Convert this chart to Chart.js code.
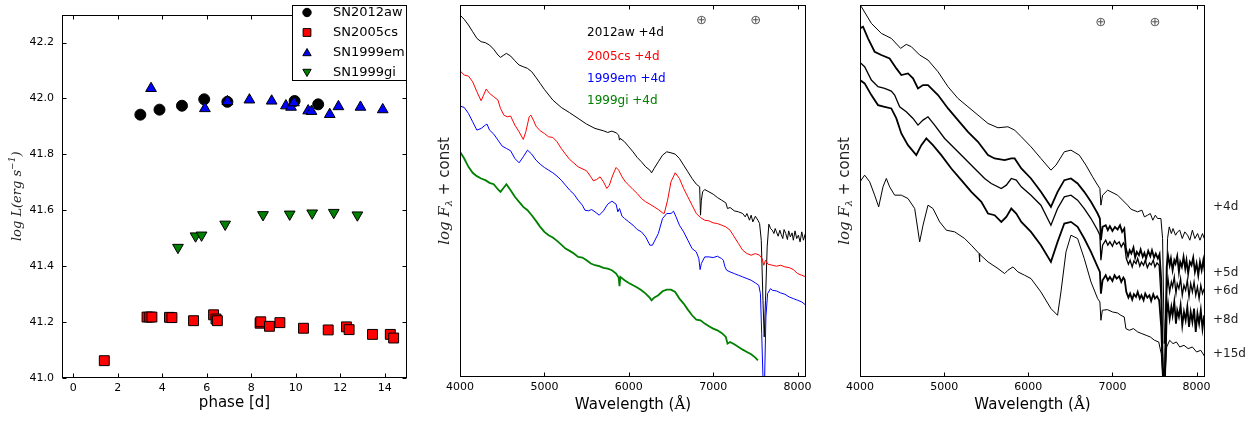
<!DOCTYPE html>
<html><head><meta charset="utf-8">
<script src="https://cdn.jsdelivr.net/npm/chart.js@4/dist/chart.umd.min.js"></script>
<style>
body{margin:0;background:#fff;width:1258px;height:423px;overflow:hidden;position:relative}
canvas{position:absolute;top:0}
</style></head><body>
<canvas id="c1" width="420" height="423" style="left:0;width:420px;height:423px"></canvas>
<canvas id="c2" width="400" height="423" style="left:420px;width:400px;height:423px"></canvas>
<canvas id="c3" width="438" height="423" style="left:820px;width:438px;height:423px"></canvas>
<script>
// ---------- Panel 1: bolometric luminosity ----------
const phase2012aw = [3.02, 3.88, 4.89, 5.89, 6.93, 9.95, 11.01];
const logL2012aw  = [41.942, 41.960, 41.974, 41.997, 41.988, 41.991, 41.979];
const phase2005cs = [1.40, 3.32, 3.44, 3.54, 4.33, 4.44, 5.41, 6.31, 6.42, 6.48, 8.40, 8.43, 8.82, 9.29, 10.35, 11.46, 12.28, 12.40, 13.45, 14.25, 14.40];
const logL2005cs  = [41.062, 41.218, 41.218, 41.218, 41.217, 41.216, 41.205, 41.226, 41.211, 41.205, 41.196, 41.201, 41.185, 41.198, 41.178, 41.172, 41.183, 41.173, 41.156, 41.156, 41.143];
const phase1999em = [3.50, 5.92, 6.93, 7.92, 8.92, 9.56, 9.79, 9.92, 10.56, 10.71, 11.53, 11.92, 12.91, 13.91];
const logL1999em  = [42.036, 41.964, 41.989, 41.995, 41.991, 41.974, 41.969, 41.985, 41.956, 41.954, 41.943, 41.971, 41.969, 41.960];
const phase1999gi = [4.71, 5.50, 5.77, 6.83, 8.53, 9.73, 10.74, 11.71, 12.77];
const logL1999gi  = [41.467, 41.508, 41.511, 41.550, 41.584, 41.586, 41.590, 41.592, 41.583];
const phaseTicks = [0, 2, 4, 6, 8, 10, 12, 14];
const lumTicks = [41.0, 41.2, 41.4, 41.6, 41.8, 42.0, 42.2];
const legendNames = ['SN2012aw', 'SN2005cs', 'SN1999em', 'SN1999gi'];

// ---------- Panel 2: comparison spectra at +4d (log F + const) ----------
const spec2012aw4d = [[4000,10.85],[4050,10.72],[4100,10.55],[4150,10.35],[4200,10.15],[4250,10.05],[4300,10.02],[4350,9.95],[4400,9.82],[4450,9.65],[4480,9.58],[4520,9.65],[4550,9.70],[4600,9.62],[4650,9.48],[4700,9.35],[4750,9.30],[4800,9.25],[4850,9.15],[4900,8.98],[4950,8.80],[5000,8.62],[5100,8.30],[5200,8.08],[5300,7.92],[5400,7.75],[5500,7.58],[5600,7.45],[5700,7.38],[5750,7.33],[5800,7.37],[5850,7.32],[5880,7.25],[5890,7.10],[5900,7.15],[5950,7.05],[6000,6.90],[6050,6.75],[6100,6.58],[6150,6.45],[6200,6.30],[6250,6.20],[6270,6.12],[6300,6.25],[6350,6.45],[6400,6.65],[6450,6.75],[6500,6.72],[6550,6.68],[6600,6.55],[6650,6.35],[6700,6.15],[6750,5.95],[6800,5.78],[6840,5.70],[6850,4.85],[6860,5.30],[6875,5.55],[6900,5.62],[6950,5.55],[7000,5.48],[7050,5.38],[7100,5.30],[7150,5.22],[7170,5.05],[7200,5.08],[7250,4.98],[7300,4.95],[7350,4.90],[7380,4.80],[7400,4.90],[7430,4.70],[7450,4.85],[7470,4.65],[7500,4.82],[7530,4.70],[7550,4.60],[7570,4.10],[7590,2.30],[7605,1.20],[7620,2.30],[7640,3.90],[7660,4.58],[7680,4.45],[7700,4.40],[7720,4.30],[7735,4.45],[7750,4.35],[7770,4.22],[7790,4.40],[7805,4.28],[7825,4.15],[7840,4.42],[7860,4.30],[7880,4.12],[7895,4.38],[7915,4.20],[7935,4.32],[7950,4.10],[7970,4.38],[7990,4.15],[8010,4.25],[8030,4.05],[8050,4.35],[8070,4.10],[8090,4.28],[8100,4.18]];
const spec2005cs4d = [[4000,9.18],[4050,9.05],[4100,9.02],[4150,8.85],[4200,8.55],[4250,8.28],[4280,8.45],[4310,8.63],[4350,8.50],[4400,8.40],[4450,8.30],[4480,8.05],[4520,7.85],[4560,7.80],[4600,7.82],[4650,7.55],[4700,7.35],[4750,7.12],[4780,7.35],[4820,7.80],[4840,7.85],[4870,7.70],[4900,7.52],[4950,7.38],[5000,7.30],[5050,7.20],[5100,7.18],[5150,7.05],[5200,6.85],[5250,6.68],[5300,6.52],[5400,6.30],[5500,6.18],[5550,6.00],[5580,5.88],[5620,5.92],[5660,6.00],[5700,5.85],[5740,5.65],[5770,5.75],[5810,6.05],[5850,6.28],[5880,6.20],[5920,6.00],[5960,5.85],[6000,5.75],[6050,5.62],[6100,5.50],[6150,5.35],[6200,5.25],[6250,5.18],[6300,5.10],[6350,5.02],[6400,4.92],[6420,4.90],[6460,5.30],[6500,5.85],[6550,6.12],[6600,5.95],[6650,5.65],[6700,5.40],[6750,5.15],[6800,4.90],[6850,4.78],[6900,4.70],[6950,4.68],[7000,4.62],[7050,4.60],[7100,4.55],[7150,4.50],[7200,4.40],[7250,4.20],[7300,4.00],[7350,3.80],[7400,3.70],[7450,3.65],[7500,3.70],[7550,3.65],[7580,3.55],[7600,3.35],[7620,3.50],[7650,3.38],[7700,3.35],[7750,3.32],[7800,3.35],[7850,3.30],[7900,3.28],[7950,3.22],[8000,3.10],[8050,3.05],[8100,3.00]];
const spec1999em4d = [[4000,8.12],[4050,8.08],[4100,7.90],[4150,7.65],[4200,7.40],[4250,7.45],[4300,7.55],[4320,7.58],[4350,7.40],[4400,7.28],[4450,7.10],[4500,6.92],[4550,6.85],[4600,6.78],[4650,6.55],[4700,6.42],[4750,6.60],[4800,6.80],[4850,6.68],[4900,6.50],[4950,6.38],[5000,6.28],[5050,6.20],[5100,6.12],[5150,6.02],[5200,5.90],[5250,5.75],[5300,5.60],[5350,5.48],[5400,5.30],[5450,5.15],[5480,5.00],[5520,4.98],[5560,5.02],[5600,4.95],[5650,4.85],[5700,4.98],[5750,5.18],[5800,5.27],[5850,5.18],[5870,4.95],[5890,5.05],[5920,4.82],[5950,4.75],[6000,4.65],[6050,4.55],[6100,4.42],[6150,4.35],[6200,4.20],[6250,3.95],[6280,3.95],[6300,4.05],[6350,4.30],[6400,4.75],[6450,4.90],[6500,4.90],[6530,4.97],[6560,4.80],[6600,4.55],[6650,4.35],[6700,4.10],[6750,3.85],[6800,3.75],[6830,3.55],[6845,3.22],[6860,3.40],[6900,3.60],[6950,3.60],[7000,3.58],[7050,3.62],[7100,3.55],[7120,3.50],[7140,3.30],[7160,3.20],[7200,3.15],[7250,3.10],[7300,3.05],[7350,3.00],[7400,2.95],[7450,2.90],[7500,2.82],[7540,2.75],[7560,2.50],[7575,1.30],[7590,0.00],[7610,0.00],[7625,1.80],[7645,2.50],[7680,2.65],[7700,2.60],[7750,2.58],[7800,2.52],[7850,2.48],[7900,2.40],[7950,2.35],[8000,2.30],[8050,2.25],[8100,2.15]];
const spec1999gi4d = [[4000,6.75],[4050,6.55],[4100,6.30],[4150,6.12],[4200,6.02],[4250,5.95],[4300,5.90],[4350,5.82],[4400,5.78],[4450,5.62],[4480,5.55],[4520,5.68],[4550,5.78],[4600,5.60],[4650,5.40],[4700,5.25],[4750,5.10],[4800,5.00],[4850,4.85],[4900,4.68],[4950,4.50],[5000,4.35],[5050,4.25],[5100,4.18],[5150,4.08],[5200,3.97],[5250,3.85],[5300,3.78],[5350,3.70],[5400,3.60],[5450,3.58],[5500,3.50],[5550,3.40],[5600,3.35],[5650,3.32],[5700,3.27],[5750,3.25],[5800,3.20],[5850,3.10],[5880,2.98],[5890,2.72],[5900,3.00],[5950,2.90],[6000,2.82],[6050,2.75],[6100,2.68],[6150,2.60],[6200,2.50],[6250,2.37],[6270,2.30],[6300,2.38],[6350,2.45],[6400,2.57],[6450,2.62],[6500,2.62],[6550,2.55],[6600,2.35],[6650,2.20],[6700,2.02],[6750,1.85],[6800,1.72],[6850,1.70],[6900,1.60],[6950,1.52],[7000,1.45],[7050,1.40],[7100,1.32],[7150,1.20],[7170,1.00],[7200,1.05],[7250,0.98],[7300,0.90],[7350,0.82],[7400,0.75],[7450,0.68],[7500,0.58],[7530,0.50]];
const midNames = ['2012aw +4d', '2005cs +4d', '1999em +4d', '1999gi +4d'];

// ---------- Panel 3: SN 2012aw spectral sequence ----------
const specAw4d = [[4000,11.20],[4016,11.10],[4135,10.60],[4253,10.30],[4372,10.15],[4483,9.85],[4550,9.97],[4610,9.90],[4709,9.65],[4808,9.50],[4927,9.15],[5046,8.70],[5164,8.35],[5283,8.10],[5402,7.85],[5521,7.60],[5640,7.47],[5758,7.50],[5838,7.40],[5917,7.20],[6032,6.90],[6150,6.55],[6269,6.20],[6329,6.35],[6428,6.75],[6507,6.80],[6606,6.65],[6685,6.35],[6764,6.00],[6824,5.75],[6851,5.65],[6863,5.15],[6883,5.45],[6943,5.60],[7061,5.45],[7180,5.15],[7220,5.03],[7299,4.95],[7350,5.00],[7380,4.80],[7418,4.85],[7450,4.90],[7480,4.70],[7510,4.85],[7537,4.75],[7576,4.75],[7596,4.15],[7616,1.00],[7640,2.30],[7655,4.15],[7675,4.50],[7700,4.30],[7720,4.45],[7750,4.25],[7774,4.35],[7800,4.40],[7830,4.15],[7860,4.35],[7893,4.25],[7920,4.10],[7950,4.40],[7980,4.15],[8012,4.30],[8040,4.10],[8070,4.30],[8091,4.15]];
const specAw5d = [[4000,10.45],[4036,10.50],[4095,10.15],[4174,9.75],[4253,9.65],[4352,9.55],[4432,9.25],[4491,9.05],[4570,9.10],[4630,8.95],[4689,8.65],[4749,8.75],[4808,8.75],[4927,8.45],[5046,8.05],[5164,7.70],[5283,7.35],[5402,7.05],[5521,6.65],[5600,6.55],[5719,6.50],[5798,6.55],[5838,6.55],[5917,6.25],[6032,5.95],[6150,5.55],[6269,5.10],[6348,5.55],[6428,5.90],[6507,5.95],[6586,5.80],[6665,5.55],[6745,5.25],[6824,4.90],[6851,4.75],[6863,4.10],[6883,4.50],[6920,4.55],[6945,4.40],[6970,4.52],[7000,4.38],[7030,4.50],[7061,4.42],[7090,4.55],[7115,4.35],[7141,4.45],[7160,3.85],[7185,3.62],[7205,3.80],[7225,3.70],[7250,3.88],[7270,3.58],[7290,3.75],[7315,3.65],[7335,3.82],[7360,3.60],[7380,3.72],[7400,3.55],[7425,3.78],[7450,3.62],[7470,3.80],[7495,3.58],[7515,3.70],[7540,3.55],[7560,3.68],[7580,2.90],[7600,0.00],[7625,0.30],[7645,3.30],[7660,3.65],[7680,3.35],[7695,3.55],[7715,3.20],[7735,3.50],[7750,3.40],[7770,3.62],[7790,3.15],[7805,3.45],[7825,3.30],[7845,3.60],[7865,3.25],[7880,3.50],[7900,3.10],[7920,3.45],[7940,3.35],[7960,3.58],[7980,3.15],[8000,3.40],[8020,3.05],[8040,3.45],[8060,3.20],[8080,3.50],[8100,3.10]];
const specAw6d = [[4000,9.43],[4055,9.30],[4135,8.90],[4214,8.70],[4293,8.65],[4372,8.57],[4412,8.45],[4471,8.10],[4550,7.95],[4630,7.75],[4689,7.55],[4749,7.70],[4808,7.80],[4887,7.55],[5006,7.15],[5125,6.85],[5244,6.55],[5362,6.25],[5481,5.95],[5560,5.80],[5679,5.65],[5739,5.75],[5798,5.95],[5857,5.90],[5917,5.70],[6032,5.45],[6150,5.15],[6269,4.55],[6348,5.05],[6428,5.40],[6507,5.45],[6586,5.30],[6665,5.05],[6745,4.75],[6824,4.40],[6851,4.25],[6863,3.50],[6883,3.95],[6920,4.10],[6945,3.95],[6970,4.05],[7000,3.92],[7025,4.08],[7050,3.98],[7080,4.05],[7105,3.90],[7130,4.02],[7145,3.95],[7165,3.55],[7190,3.38],[7210,3.50],[7235,3.30],[7255,3.48],[7280,3.40],[7300,3.55],[7325,3.32],[7345,3.45],[7370,3.35],[7390,3.50],[7415,3.28],[7440,3.42],[7460,3.36],[7485,3.50],[7505,3.30],[7530,3.42],[7555,3.35],[7580,2.30],[7600,0.00],[7625,0.00],[7645,2.60],[7660,2.95],[7680,2.55],[7700,2.85],[7715,2.70],[7735,3.00],[7755,2.50],[7770,2.80],[7790,2.65],[7810,2.95],[7830,2.45],[7850,2.75],[7870,2.60],[7890,2.90],[7910,2.40],[7930,2.80],[7950,2.55],[7970,2.85],[7990,2.45],[8010,2.70],[8030,2.35],[8050,2.75],[8070,2.50],[8090,2.65]];
const specAw8d = [[4000,8.90],[4055,8.80],[4135,8.45],[4214,8.15],[4293,8.10],[4372,8.05],[4432,7.75],[4491,7.30],[4570,6.95],[4669,6.65],[4729,6.95],[4788,7.15],[4867,6.95],[4966,6.65],[5085,6.25],[5204,5.90],[5323,5.55],[5442,5.25],[5521,4.90],[5600,4.85],[5679,4.65],[5739,4.80],[5798,5.05],[5857,4.90],[5917,4.65],[6032,4.35],[6150,3.95],[6269,3.45],[6348,4.05],[6428,4.60],[6507,4.65],[6586,4.50],[6665,4.15],[6745,3.75],[6824,3.30],[6851,3.15],[6863,2.50],[6883,2.90],[6920,3.05],[6945,2.90],[6970,3.00],[7000,2.88],[7025,3.05],[7050,2.95],[7080,3.02],[7105,2.85],[7130,2.98],[7145,2.92],[7165,2.55],[7190,2.38],[7210,2.50],[7235,2.32],[7255,2.48],[7280,2.40],[7300,2.55],[7325,2.35],[7345,2.45],[7370,2.30],[7390,2.50],[7415,2.38],[7440,2.45],[7460,2.28],[7485,2.48],[7505,2.35],[7530,2.42],[7555,2.30],[7580,1.50],[7600,0.00],[7625,0.00],[7645,1.90],[7660,2.20],[7680,1.75],[7700,2.10],[7715,1.85],[7735,2.25],[7755,1.60],[7770,2.00],[7790,1.80],[7810,2.15],[7830,1.55],[7850,1.95],[7870,1.70],[7890,2.10],[7910,1.50],[7930,1.95],[7950,1.65],[7970,2.05],[7990,1.35],[8010,1.90],[8030,1.60],[8050,2.00],[8070,1.45],[8090,1.85]];
const specAw15d = [[4000,5.85],[4055,6.05],[4115,5.85],[4174,5.45],[4222,5.10],[4273,5.70],[4313,5.95],[4352,5.70],[4412,5.45],[4491,5.45],[4570,5.35],[4650,5.05],[4709,4.05],[4749,4.55],[4808,5.15],[4867,5.05],[4947,4.65],[5026,4.40],[5125,4.35],[5244,4.15],[5323,3.95],[5415,3.70],[5420,3.45],[5425,3.68],[5521,3.45],[5640,3.25],[5719,3.10],[5758,3.20],[5818,3.30],[5877,3.15],[5956,3.05],[6032,2.95],[6150,2.55],[6269,2.05],[6348,1.85],[6388,2.55],[6448,3.75],[6507,4.25],[6586,4.15],[6665,3.55],[6745,2.85],[6824,2.35],[6851,2.25],[6863,1.70],[6880,2.00],[6940,2.02],[7000,1.95],[7060,1.92],[7100,1.85],[7140,1.80],[7160,1.45],[7200,1.40],[7250,1.45],[7300,1.35],[7350,1.30],[7400,1.25],[7450,1.20],[7500,1.10],[7550,1.05],[7580,0.70],[7600,0.00],[7625,0.00],[7645,0.90],[7680,1.10],[7720,1.00],[7760,1.05],[7800,0.90],[7850,0.95],[7900,0.85],[7950,0.90],[8000,0.75],[8050,0.80],[8100,0.60]];
const epochLabels = ['+4d', '+5d', '+6d', '+8d', '+15d'];
const waveTicks = [4000, 5000, 6000, 7000, 8000];
const telluricWaves = [6860, 7505];

// ---------- helpers ----------
const SANS = "'DejaVu Sans', sans-serif";
const SERIF = "'DejaVu Serif', serif";
function pts(xs, ys) { return xs.map((x, i) => ({x: x, y: ys[i]})); }
function pairs(a) { return a.map(p => ({x: p[0], y: p[1]})); }
function setTicks(list) { return s => { s.ticks = list.map(v => ({value: v})); }; }

function rich(ctx, cx, cy, pieces, rotate) {
  ctx.save();
  ctx.translate(cx, cy);
  if (rotate) ctx.rotate(-Math.PI / 2);
  let total = 0;
  pieces.forEach(p => { ctx.font = p.font; p.w = ctx.measureText(p.t).width; total += p.w; });
  let x = -total / 2;
  ctx.textBaseline = 'middle'; ctx.textAlign = 'left';
  pieces.forEach(p => { ctx.font = p.font; ctx.fillStyle = p.color || '#222'; ctx.fillText(p.t, x, p.dy || 0); x += p.w; });
  ctx.restore();
}

const framePlugin = {
  id: 'frame',
  afterDraw(chart, args, opts) {
    const {ctx, chartArea: a, scales} = chart;
    const L = Math.round(a.left) + 0.5, R = Math.round(a.right) - 0.5, T = Math.round(a.top) + 0.5, B = Math.round(a.bottom) - 0.5;
    ctx.save();
    ctx.strokeStyle = '#000'; ctx.lineWidth = 1;
    ctx.beginPath();
    const tl = 4;
    (opts.xTicks || []).forEach(v => {
      const p = Math.round(scales.x.getPixelForValue(v)) + 0.5;
      ctx.moveTo(p, B); ctx.lineTo(p, B - tl);
      ctx.moveTo(p, T); ctx.lineTo(p, T + tl);
    });
    (opts.yTicks || []).forEach(v => {
      const p = Math.round(scales.y.getPixelForValue(v)) + 0.5;
      ctx.moveTo(L, p); ctx.lineTo(L + tl, p);
      ctx.moveTo(R, p); ctx.lineTo(R - tl, p);
    });
    ctx.stroke();
    ctx.strokeRect(L, T, R - L, B - T);
    ctx.restore();
  }
};

const tickFont = {family: "'DejaVu Sans', sans-serif", size: 11};
const noGrid = {display: false, drawTicks: false};
Chart.defaults.animation = false;
Chart.defaults.devicePixelRatio = window.devicePixelRatio || 1;

// ---------- Panel 1 ----------
const lumSets = [
  {label: legendNames[0], data: pts(phase2012aw, logL2012aw), pointStyle: 'circle', pointRadius: 5.5, backgroundColor: '#000000', order: 4},
  {label: legendNames[1], data: pts(phase2005cs, logL2005cs), pointStyle: 'rect', pointRadius: 7, backgroundColor: '#ff0000', order: 3},
  {label: legendNames[2], data: pts(phase1999em, logL1999em), pointStyle: 'triangle', pointRadius: 6.2, backgroundColor: '#0000ff', order: 2},
  {label: legendNames[3], data: pts(phase1999gi, logL1999gi), pointStyle: 'triangle', rotation: 180, pointRadius: 6.2, backgroundColor: '#008000', order: 1}
];
lumSets.forEach(d => { d.borderColor = '#000'; d.borderWidth = 1; d.pointRotation = d.rotation || 0; d.pointHoverRadius = d.pointRadius; });

const legend1 = {
  id: 'legend1',
  afterDraw(chart) {
    const ctx = chart.ctx;
    ctx.save();
    ctx.fillStyle = '#fff'; ctx.strokeStyle = '#000'; ctx.lineWidth = 1;
    ctx.fillRect(292.5, 5.5, 114, 75);
    ctx.strokeRect(292.5, 5.5, 114, 75);
    const rows = [12.5, 32.5, 52.5, 72.5];
    const radii = [4.2, 5.5, 4.8, 4.8];
    lumSets.forEach((d, i) => {
      ctx.fillStyle = d.backgroundColor; ctx.strokeStyle = '#000'; ctx.lineWidth = 1;
      Chart.helpers.drawPoint(ctx, {pointStyle: d.pointStyle, radius: radii[i], rotation: d.rotation || 0, borderWidth: 1}, 307, rows[i] + (i === 2 ? 0.8 : (i === 3 ? -0.8 : 0)));
      ctx.fillStyle = '#000'; ctx.font = '13px ' + SANS; ctx.textBaseline = 'middle'; ctx.textAlign = 'left';
      ctx.fillText(d.label, 333, rows[i]);
    });
    ctx.restore();
  }
};
const labels1 = {
  id: 'labels1',
  afterDraw(chart) {
    const ctx = chart.ctx, a = chart.chartArea;
    rich(ctx, 18, (a.top + a.bottom) / 2, [
      {t: 'log L(erg s', font: 'italic 13px ' + SERIF},
      {t: '\u22121', font: 'italic 9px ' + SERIF, dy: -5},
      {t: ')', font: 'italic 13px ' + SERIF}
    ], true);
    rich(ctx, (a.left + a.right) / 2, 403, [{t: 'phase [d]', font: '15px ' + SANS, color: '#000'}], false);
  }
};

new Chart(document.getElementById('c1'), {
  type: 'scatter',
  data: {datasets: lumSets},
  options: {
    responsive: false,
    layout: {padding: {left: 0, right: 13, top: 5, bottom: 0}, autoPadding: false},
    plugins: {legend: {display: false}, tooltip: {enabled: false}, frame: {xTicks: phaseTicks, yTicks: lumTicks}},
    scales: {
      x: {type: 'linear', min: -0.5, max: 15, afterBuildTicks: setTicks(phaseTicks),
          afterFit: s => { s.height = 45; },
          grid: noGrid, border: {display: false},
          ticks: {font: tickFont, color: '#000', padding: 4, callback: v => String(v)}},
      y: {type: 'linear', min: 41.0, max: 42.3, afterBuildTicks: setTicks(lumTicks),
          afterFit: s => { s.width = 62; },
          grid: noGrid, border: {display: false},
          ticks: {font: tickFont, color: '#000', padding: 8, callback: v => v.toFixed(1)}}
    }
  },
  plugins: [framePlugin, legend1, labels1]
});

// ---------- spectra panels ----------
function specOptions(padRight) {
  return {
    responsive: false,
    layout: {padding: {left: 40, right: padRight, top: 5, bottom: 0}, autoPadding: false},
    plugins: {legend: {display: false}, tooltip: {enabled: false}, frame: {xTicks: waveTicks}},
    elements: {point: {radius: 0, hoverRadius: 0}, line: {tension: 0}},
    scales: {
      x: {type: 'linear', min: 4000, max: 8100, afterBuildTicks: setTicks(waveTicks),
          afterFit: s => { s.height = 46; },
          grid: noGrid, border: {display: false},
          ticks: {font: tickFont, color: '#000', padding: 4, callback: v => String(v)}},
      y: {type: 'linear', min: 0, max: 11.15, display: false}
    }
  };
}
function specLabels(extra) {
  return {
    id: 'speclabels',
    afterDraw(chart) {
      const ctx = chart.ctx, a = chart.chartArea, sx = chart.scales.x;
      rich(ctx, 25, (a.top + a.bottom) / 2, [
        {t: 'log F', font: 'italic 15px ' + SERIF},
        {t: '\u03bb', font: 'italic 10px ' + SERIF, dy: 4},
        {t: ' + const', font: '15px ' + SANS}
      ], true);
      rich(ctx, (a.left + a.right) / 2, 405, [
        {t: 'Wavelength (', font: '15px ' + SANS, color: '#000'},
        {t: '\u00c5', font: '15px ' + SERIF, color: '#000'},
        {t: ')', font: '15px ' + SANS, color: '#000'}
      ], false);
      ctx.save();
      ctx.font = '13px ' + SANS; ctx.fillStyle = '#555'; ctx.textAlign = 'center'; ctx.textBaseline = 'middle';
      telluricWaves.forEach(w => ctx.fillText('\u2295', sx.getPixelForValue(w), extra.telY));
      ctx.restore();
      extra.draw(ctx, a);
    }
  };
}
function line(data, color, width) {
  return {data: pairs(data), borderColor: color, borderWidth: width, pointRadius: 0, fill: false};
}

const midColors = ['#000000', '#ff0000', '#0000ff', '#008000'];
new Chart(document.getElementById('c2'), {
  type: 'line',
  data: {datasets: [
    Object.assign(line(spec2012aw4d, midColors[0], 1), {order: 4}),
    Object.assign(line(spec2005cs4d, midColors[1], 1), {order: 3}),
    Object.assign(line(spec1999em4d, midColors[2], 1), {order: 2}),
    Object.assign(line(spec1999gi4d, midColors[3], 1.8), {order: 1})
  ]},
  options: specOptions(14),
  plugins: [framePlugin, specLabels({telY: 21, draw(ctx) {
    ctx.save();
    ctx.font = '12px ' + SANS; ctx.textAlign = 'left'; ctx.textBaseline = 'middle';
    const ys = [33.3, 56.7, 79.3, 101];
    midNames.forEach((n, i) => { ctx.fillStyle = midColors[i]; ctx.fillText(n, 167, ys[i]); });
    ctx.restore();
  }})]
});

new Chart(document.getElementById('c3'), {
  type: 'line',
  data: {datasets: [
    line(specAw4d, '#000', 1),
    line(specAw5d, '#000', 1.8),
    line(specAw6d, '#000', 1.3),
    line(specAw8d, '#000', 1.8),
    line(specAw15d, '#000', 1)
  ]},
  options: specOptions(53),
  plugins: [framePlugin, specLabels({telY: 23, draw(ctx) {
    ctx.save();
    ctx.font = '12px ' + SANS; ctx.fillStyle = '#222'; ctx.textAlign = 'left'; ctx.textBaseline = 'middle';
    const ys = [207, 273, 291, 320, 354];
    epochLabels.forEach((n, i) => ctx.fillText(n, 393, ys[i]));
    ctx.restore();
  }})]
});
</script>
</body></html>
